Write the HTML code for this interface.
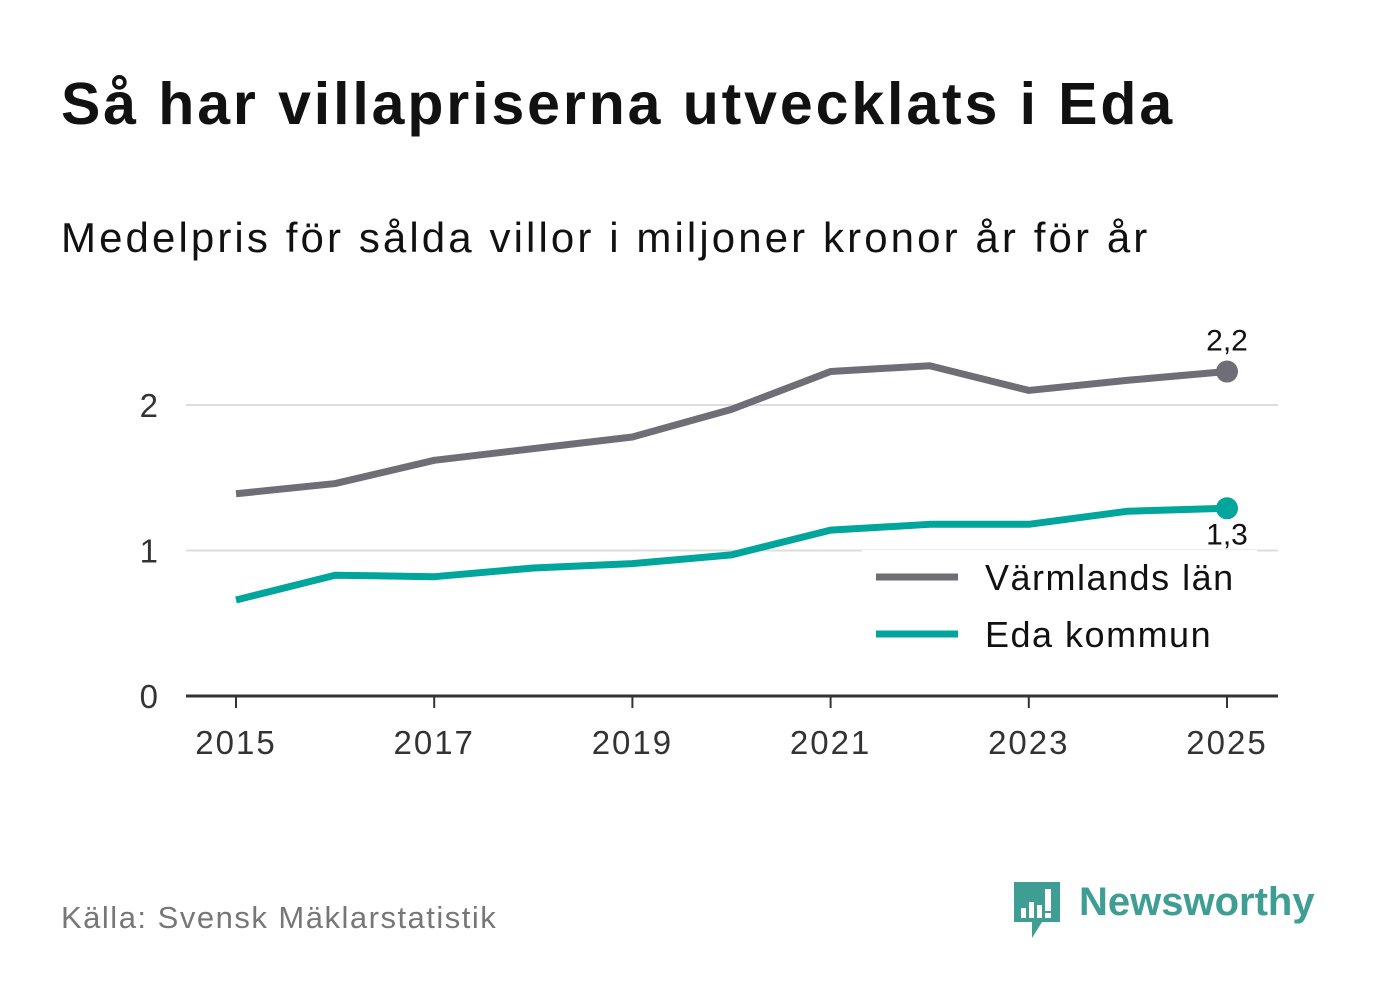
<!DOCTYPE html>
<html><head><meta charset="utf-8"><style>
body{margin:0;width:1382px;height:999px;background:#fff;font-family:"Liberation Sans",sans-serif;position:relative;overflow:hidden}
.t{position:absolute;white-space:nowrap}
</style></head><body>
<div class="t" style="left:61px;top:70px;font-size:59px;font-weight:bold;color:#111;letter-spacing:2.9px;">Så har villapriserna utvecklats i Eda</div>
<div class="t" style="left:61px;top:214px;font-size:42px;color:#111;letter-spacing:3.1px;">Medelpris för sålda villor i miljoner kronor år för år</div>
<svg id="chart" width="1382" height="999" style="position:absolute;left:0;top:0"></svg>
<div class="t" style="left:61px;top:900px;font-size:31px;color:#777;letter-spacing:1.5px;">Källa: Svensk Mäklarstatistik</div>
<div style="position:absolute;left:1012px;top:880px;">
<svg width="50" height="60" style="position:absolute;left:0;top:0"><path d="M2 2h46v40h-18l-10 16v-16h-18z" fill="#3f9e94"/><rect x="9" y="28" width="5" height="10" fill="#fff"/><rect x="17" y="22" width="5" height="16" fill="#fff"/><rect x="25" y="25" width="5" height="13" fill="#fff"/><rect x="33" y="9" width="6" height="22" fill="#fff"/><rect x="33" y="33" width="6" height="5" fill="#fff"/></svg>
<div class="t" style="left:67px;top:0px;font-size:40px;font-weight:bold;color:#3f9e94;">Newsworthy</div>
</div>
<script>
const years=[2015,2016,2017,2018,2019,2020,2021,2022,2023,2024,2025];
const varmland=[1.39,1.46,1.62,1.70,1.78,1.97,2.23,2.27,2.10,2.17,2.23];
const eda=[0.66,0.83,0.82,0.88,0.91,0.97,1.14,1.18,1.18,1.27,1.29];
const yTicks=[0,1,2];
const xTicks=[2015,2017,2019,2021,2023,2025];
const NS='http://www.w3.org/2000/svg';
const svg=document.getElementById('chart');
const x=v=>236+(v-2015)*99.1;
const y=v=>696-v*145.5;
function mk(tag,attrs,parent){const e=document.createElementNS(NS,tag);for(const k in attrs)e.setAttribute(k,attrs[k]);(parent||svg).appendChild(e);return e;}
yTicks.forEach(t=>{
  if(t>0){const g=mk('line',{x1:186,x2:1278,y1:y(t),y2:y(t),stroke:'#ddd','stroke-width':2});
  
  }
  const l=mk('text',{x:158,y:y(t)+12,'text-anchor':'end','font-size':33,fill:'#333','font-family':'Liberation Sans'});
  l.textContent=t;
  
  
});
const ax=mk('line',{x1:186,x2:1278,y1:696,y2:696,stroke:'#333','stroke-width':3});


xTicks.forEach(t=>{
  const tk=mk('line',{x1:x(t),x2:x(t),y1:696,y2:708,stroke:'#333','stroke-width':2});
  
  
  const l=mk('text',{x:x(t),y:754,'text-anchor':'middle','font-size':33,'letter-spacing':2,fill:'#333','font-family':'Liberation Sans'});
  l.textContent=t;
  
  
});
function series(vals,color,name,labelDy){
  const p=mk('polyline',{points:vals.map((v,i)=>x(years[i])+','+y(v)).join(' '),fill:'none',stroke:color,'stroke-width':7,'stroke-linejoin':'round'});
  
  
  const n=vals.length-1;
  const c=mk('circle',{cx:x(years[n]),cy:y(vals[n]),r:11,fill:color});
  
  
  const l=mk('text',{x:x(years[n]),y:y(vals[n])+labelDy,'text-anchor':'middle','font-size':30,fill:'#111','font-family':'Liberation Sans'});
  l.textContent=vals[n].toFixed(1).replace('.',',');
  
  
}
series(varmland,'#6f6e76','varmland',-21);
series(eda,'#00a59c','eda',36);
const bg=mk('rect',{x:862,y:550,width:395,height:115,fill:'#fff'});


[['Värmlands län','#6f6e76',577],['Eda kommun','#00a59c',634]].forEach(([n,c,yy])=>{
  const l=mk('line',{x1:876,x2:958,y1:yy,y2:yy,stroke:c,'stroke-width':7});
  
  
  const t=mk('text',{x:985,y:yy+13,'font-size':36,'letter-spacing':1.5,fill:'#111','font-family':'Liberation Sans'});
  t.textContent=n;
  
  
});
</script>
</body></html>
